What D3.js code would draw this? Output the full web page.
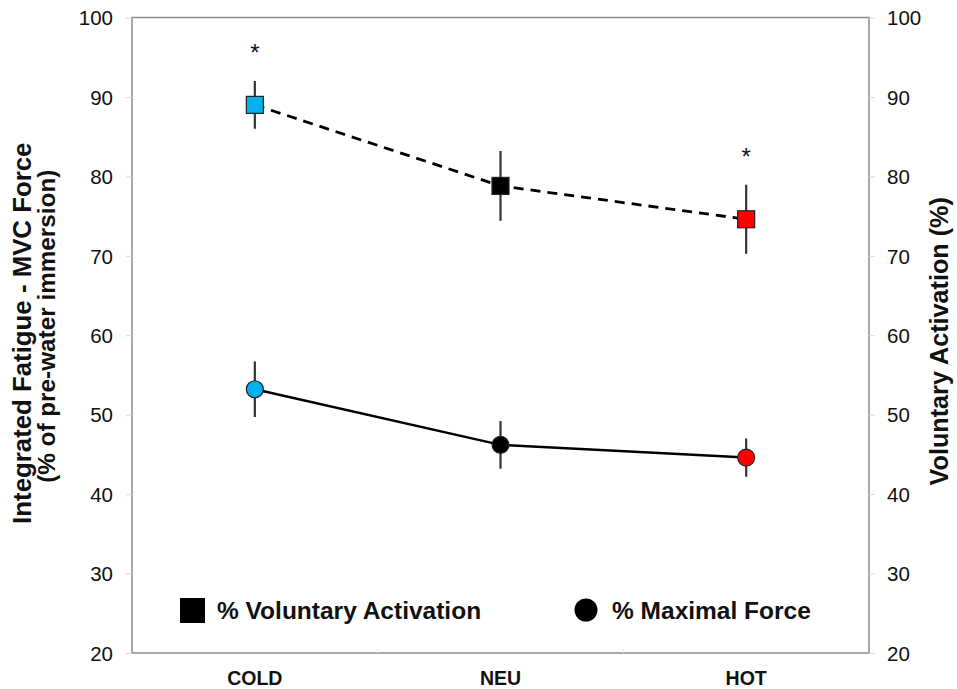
<!DOCTYPE html>
<html>
<head>
<meta charset="utf-8">
<script src="https://cdn.jsdelivr.net/npm/d3@7"></script>
<style>
  html, body { margin: 0; padding: 0; background: #fff; }
  svg { display: block; font-family: "Liberation Sans", Arial, sans-serif; }
</style>
</head>
<body>
<svg id="chart" width="957" height="689"></svg>
<script>
// Conditions (water immersion temperature)
const conditions = ["COLD", "NEU", "HOT"];
const conditionColors = ["#00B0F0", "#000000", "#FF0000"];

// % Voluntary Activation (right axis) – mean and SE
const vaMean = [89.0, 78.8, 74.6];
const vaErr = [3.0, 4.4, 4.35];
const vaSignificant = [true, false, true];

// % Maximal Force (left axis) – mean and SE
const mfMean = [53.2, 46.2, 44.6];
const mfErr = [3.5, 3.0, 2.4];

const yTicks = [20, 30, 40, 50, 60, 70, 80, 90, 100];

const legendItems = ["% Voluntary Activation", "% Maximal Force"];

const margin = { left: 132, right: 88, top: 17.5, bottom: 36 };
const W = 957, H = 689;
const svg = d3.select("#chart");

const x = d3.scaleBand().domain(conditions).range([margin.left, W - margin.right]);
const y = d3.scaleLinear().domain([20, 100]).range([H - margin.bottom, margin.top]);
const yRight = d3.scaleLinear().domain([20, 100]).range([H - margin.bottom, margin.top]);
const cx = c => x(c) + x.bandwidth() / 2;
const midY = (margin.top + H - margin.bottom) / 2;

const axisColor = "#8c8c8c";

// Frame
svg.append("rect")
  .attr("x", margin.left).attr("y", margin.top)
  .attr("width", W - margin.left - margin.right)
  .attr("height", H - margin.top - margin.bottom)
  .attr("fill", "none").attr("stroke", axisColor).attr("stroke-width", 1.5);

// Left axis
const leftAxis = svg.append("g")
  .attr("transform", `translate(${margin.left},0)`)
  .call(d3.axisLeft(y).tickValues(yTicks).tickSize(6).tickPadding(13));
leftAxis.select(".domain").remove();
leftAxis.selectAll("line").attr("stroke", "#d9d9d9");
leftAxis.selectAll("text").attr("font-size", 20.5).attr("fill", "#111").attr("dy", "0.35em");

// Right axis
const rightAxis = svg.append("g")
  .attr("transform", `translate(${W - margin.right},0)`)
  .call(d3.axisRight(yRight).tickValues(yTicks).tickSize(6).tickPadding(12));
rightAxis.select(".domain").remove();
rightAxis.selectAll("line").attr("stroke", "#d9d9d9");
rightAxis.selectAll("text").attr("font-size", 20.5).attr("fill", "#111").attr("dy", "0.35em");

// Bottom category separators and labels
svg.append("g").selectAll("line")
  .data(conditions.slice(1))
  .join("line")
  .attr("x1", d => x(d)).attr("x2", d => x(d))
  .attr("y1", H - margin.bottom).attr("y2", H - margin.bottom - 4)
  .attr("stroke", "#e3e3e3").attr("stroke-width", 1);

svg.append("g").selectAll("text")
  .data(conditions)
  .join("text")
  .attr("x", d => cx(d)).attr("y", 685)
  .attr("text-anchor", "middle")
  .attr("font-size", 19.5).attr("font-weight", "bold").attr("fill", "#111")
  .text(d => d);

// Axis titles
svg.append("text")
  .attr("transform", `translate(31,${midY - 2}) rotate(-90)`)
  .attr("text-anchor", "middle")
  .attr("font-size", 25.8).attr("font-weight", "bold").attr("fill", "#111")
  .text("Integrated Fatigue - MVC Force");
svg.append("text")
  .attr("transform", `translate(55,${midY - 9}) rotate(-90)`)
  .attr("text-anchor", "middle")
  .attr("font-size", 24.3).attr("font-weight", "bold").attr("fill", "#111")
  .text("(% of pre-water immersion)");
svg.append("text")
  .attr("transform", `translate(948,${midY + 6}) rotate(-90)`)
  .attr("text-anchor", "middle")
  .attr("font-size", 25.2).attr("font-weight", "bold").attr("fill", "#111")
  .text("Voluntary Activation (%)");

// Series data
const va = conditions.map((c, i) => ({ c, v: vaMean[i], e: vaErr[i], color: conditionColors[i], sig: vaSignificant[i] }));
const mf = conditions.map((c, i) => ({ c, v: mfMean[i], e: mfErr[i], color: conditionColors[i] }));

// Error bars
function errorBars(data, scale) {
  svg.append("g").selectAll("line")
    .data(data)
    .join("line")
    .attr("x1", d => cx(d.c)).attr("x2", d => cx(d.c))
    .attr("y1", d => scale(d.v - d.e)).attr("y2", d => scale(d.v + d.e))
    .attr("stroke", "#333").attr("stroke-width", 2.2);
}
errorBars(va, yRight);
errorBars(mf, y);

// Lines
const line = scale => d3.line().x(d => cx(d.c)).y(d => scale(d.v));
svg.append("path").datum(va)
  .attr("d", line(yRight))
  .attr("fill", "none").attr("stroke", "#000").attr("stroke-width", 2.8)
  .attr("stroke-dasharray", "10,7");
svg.append("path").datum(mf)
  .attr("d", line(y))
  .attr("fill", "none").attr("stroke", "#000").attr("stroke-width", 2.5);

// Markers
const sq = 17;
svg.append("g").selectAll("rect")
  .data(va)
  .join("rect")
  .attr("x", d => cx(d.c) - sq / 2).attr("y", d => yRight(d.v) - sq / 2)
  .attr("width", sq).attr("height", sq)
  .attr("fill", d => d.color).attr("stroke", "#222").attr("stroke-width", 1.2);

svg.append("g").selectAll("circle")
  .data(mf)
  .join("circle")
  .attr("cx", d => cx(d.c)).attr("cy", d => y(d.v)).attr("r", 8.5)
  .attr("fill", d => d.color).attr("stroke", "#222").attr("stroke-width", 1.2);

// Significance markers
svg.append("g").selectAll("text")
  .data(va.filter(d => d.sig))
  .join("text")
  .attr("x", d => cx(d.c)).attr("y", d => yRight(d.v + d.e) - 20)
  .attr("text-anchor", "middle")
  .attr("font-size", 24).attr("fill", "#111")
  .text("*");

// Legend
const legend = svg.append("g");
legend.append("rect")
  .attr("x", 180).attr("y", 598).attr("width", 25).attr("height", 25).attr("fill", "#000");
legend.append("text")
  .attr("x", 217).attr("y", 619)
  .attr("font-size", 24.5).attr("font-weight", "bold").attr("fill", "#111")
  .text(legendItems[0]);
legend.append("circle")
  .attr("cx", 586).attr("cy", 610).attr("r", 11.5).attr("fill", "#000");
legend.append("text")
  .attr("x", 612).attr("y", 619)
  .attr("font-size", 24.5).attr("font-weight", "bold").attr("fill", "#111")
  .text(legendItems[1]);
</script>
</body>
</html>
